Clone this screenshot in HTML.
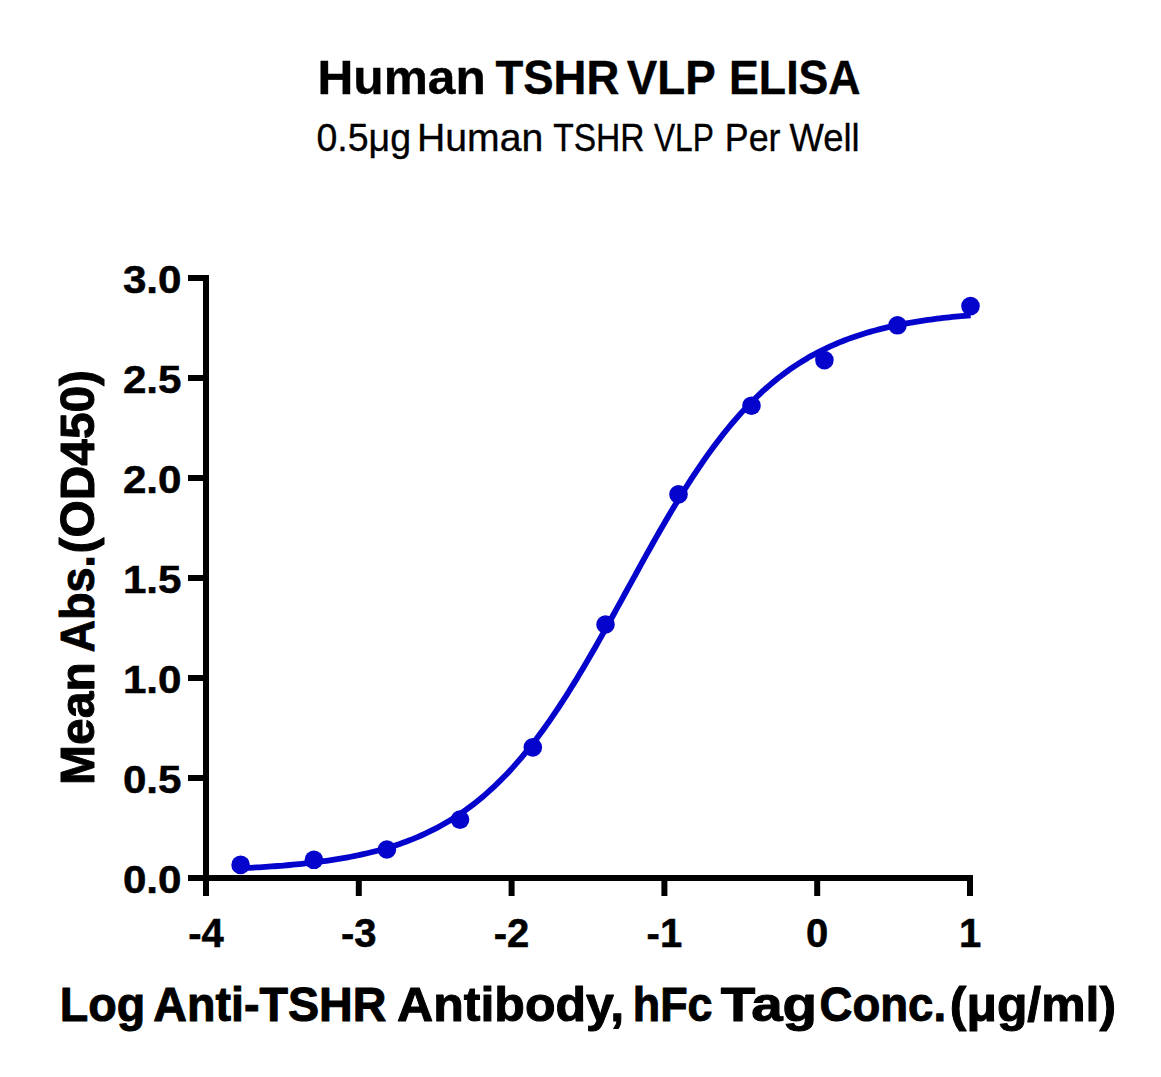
<!DOCTYPE html>
<html><head><meta charset="utf-8"><style>
html,body{margin:0;padding:0;background:#fff;}
body{width:1161px;height:1077px;overflow:hidden;}
svg{display:block;}
text{font-family:"Liberation Sans",sans-serif;fill:#000;}
.b{font-weight:bold;}
</style></head><body>
<svg width="1161" height="1077" viewBox="0 0 1161 1077">
<rect width="1161" height="1077" fill="#fff"/>
<text class="b" stroke="#000" stroke-width="0.4" stroke-linejoin="round" x="317.50" y="94.4" font-size="48.6" textLength="168.28" lengthAdjust="spacingAndGlyphs">Human</text>
<text class="b" stroke="#000" stroke-width="0.4" stroke-linejoin="round" x="495.40" y="94.4" font-size="48.6" textLength="123.84" lengthAdjust="spacingAndGlyphs">TSHR</text>
<text class="b" stroke="#000" stroke-width="0.4" stroke-linejoin="round" x="626.80" y="94.4" font-size="48.6" textLength="88.85" lengthAdjust="spacingAndGlyphs">VLP</text>
<text class="b" stroke="#000" stroke-width="0.4" stroke-linejoin="round" x="729.10" y="94.4" font-size="48.6" textLength="131.45" lengthAdjust="spacingAndGlyphs">ELISA</text>
<text class="r" stroke="#000" stroke-width="0.35" stroke-linejoin="round" x="316.50" y="151.3" font-size="38.5" textLength="94.57" lengthAdjust="spacingAndGlyphs">0.5μg</text>
<text class="r" stroke="#000" stroke-width="0.35" stroke-linejoin="round" x="417.00" y="151.3" font-size="38.5" textLength="126.22" lengthAdjust="spacingAndGlyphs">Human</text>
<text class="r" stroke="#000" stroke-width="0.35" stroke-linejoin="round" x="553.20" y="151.3" font-size="38.5" textLength="91.37" lengthAdjust="spacingAndGlyphs">TSHR</text>
<text class="r" stroke="#000" stroke-width="0.35" stroke-linejoin="round" x="653.90" y="151.3" font-size="38.5" textLength="59.96" lengthAdjust="spacingAndGlyphs">VLP</text>
<text class="r" stroke="#000" stroke-width="0.35" stroke-linejoin="round" x="724.80" y="151.3" font-size="38.5" textLength="55.69" lengthAdjust="spacingAndGlyphs">Per</text>
<text class="r" stroke="#000" stroke-width="0.35" stroke-linejoin="round" x="789.60" y="151.3" font-size="38.5" textLength="70.08" lengthAdjust="spacingAndGlyphs">Well</text>
<g stroke="#000" stroke-width="6" fill="none">
<path d="M206,275 V878 H973"/>
<path d="M188,278 H206 M188,378 H206 M188,478 H206 M188,578 H206 M188,678 H206 M188,778 H206 M188,878 H206"/>
<path d="M206,878 V896 M358.8,878 V896 M511.6,878 V896 M664.4,878 V896 M817.2,878 V896 M970,878 V896"/>
</g>
<g class="b" font-size="39.4" text-anchor="end" stroke="#000" stroke-width="0.5"><text x="181.5" y="293.2" textLength="58.6" lengthAdjust="spacingAndGlyphs">3.0</text><text x="181.5" y="393.2" textLength="58.6" lengthAdjust="spacingAndGlyphs">2.5</text><text x="181.5" y="493.2" textLength="58.6" lengthAdjust="spacingAndGlyphs">2.0</text><text x="181.5" y="593.2" textLength="58.6" lengthAdjust="spacingAndGlyphs">1.5</text><text x="181.5" y="693.2" textLength="58.6" lengthAdjust="spacingAndGlyphs">1.0</text><text x="181.5" y="793.2" textLength="58.6" lengthAdjust="spacingAndGlyphs">0.5</text><text x="181.5" y="893.2" textLength="58.6" lengthAdjust="spacingAndGlyphs">0.0</text></g>
<g class="b" font-size="40" text-anchor="middle" stroke="#000" stroke-width="0.5"><text x="206.0" y="947">-4</text><text x="358.8" y="947">-3</text><text x="511.6" y="947">-2</text><text x="664.4" y="947">-1</text><text x="817.2" y="947">0</text><text x="970.0" y="947">1</text></g>
<text class="b" stroke="#000" stroke-width="1.0" stroke-linejoin="round" x="59.70" y="1021.2" font-size="48.7" textLength="85.53" lengthAdjust="spacingAndGlyphs">Log</text>
<text class="b" stroke="#000" stroke-width="1.0" stroke-linejoin="round" x="153.20" y="1021.2" font-size="48.7" textLength="233.23" lengthAdjust="spacingAndGlyphs">Anti-TSHR</text>
<text class="b" stroke="#000" stroke-width="1.0" stroke-linejoin="round" x="397.00" y="1021.2" font-size="48.7" textLength="227.07" lengthAdjust="spacingAndGlyphs">Antibody,</text>
<text class="b" stroke="#000" stroke-width="1.0" stroke-linejoin="round" x="632.80" y="1021.2" font-size="48.7" textLength="79.71" lengthAdjust="spacingAndGlyphs">hFc</text>
<text class="b" stroke="#000" stroke-width="1.0" stroke-linejoin="round" x="720.80" y="1021.2" font-size="48.7" textLength="96.32" lengthAdjust="spacingAndGlyphs">Tag</text>
<text class="b" stroke="#000" stroke-width="1.0" stroke-linejoin="round" x="819.50" y="1021.2" font-size="48.7" textLength="126.63" lengthAdjust="spacingAndGlyphs">Conc.</text>
<text class="b" stroke="#000" stroke-width="1.0" stroke-linejoin="round" x="949.80" y="1021.2" font-size="48.7" textLength="166.24" lengthAdjust="spacingAndGlyphs">(μg/ml)</text>
<text class="b" stroke="#000" stroke-width="1.0" stroke-linejoin="round" transform="translate(94.2,784.9000000000003) rotate(-90)" x="0" y="0" font-size="48.7" textLength="122.65" lengthAdjust="spacingAndGlyphs">Mean</text>
<text class="b" stroke="#000" stroke-width="1.0" stroke-linejoin="round" transform="translate(94.2,652.5) rotate(-90)" x="0" y="0" font-size="48.7" textLength="97.56" lengthAdjust="spacingAndGlyphs">Abs.</text>
<text class="b" stroke="#000" stroke-width="1.0" stroke-linejoin="round" transform="translate(94.2,553.4000000000003) rotate(-90)" x="0" y="0" font-size="48.7" textLength="183.43" lengthAdjust="spacingAndGlyphs">(OD450)</text>
<path d="M240.99,868.27 L244.04,868.12 L247.10,867.96 L250.15,867.80 L253.20,867.63 L256.26,867.45 L259.31,867.27 L262.36,867.08 L265.41,866.88 L268.47,866.68 L271.52,866.46 L274.57,866.24 L277.62,866.01 L280.68,865.77 L283.73,865.52 L286.78,865.26 L289.84,864.99 L292.89,864.71 L295.94,864.42 L298.99,864.12 L302.05,863.80 L305.10,863.48 L308.15,863.14 L311.21,862.78 L314.26,862.42 L317.31,862.04 L320.36,861.64 L323.42,861.23 L326.47,860.80 L329.52,860.36 L332.58,859.90 L335.63,859.42 L338.68,858.92 L341.73,858.40 L344.79,857.87 L347.84,857.31 L350.89,856.73 L353.94,856.13 L357.00,855.51 L360.05,854.86 L363.10,854.19 L366.16,853.49 L369.21,852.77 L372.26,852.02 L375.31,851.24 L378.37,850.44 L381.42,849.60 L384.47,848.73 L387.53,847.83 L390.58,846.90 L393.63,845.93 L396.68,844.92 L399.74,843.88 L402.79,842.81 L405.84,841.69 L408.90,840.53 L411.95,839.33 L415.00,838.09 L418.05,836.81 L421.11,835.48 L424.16,834.10 L427.21,832.68 L430.27,831.20 L433.32,829.68 L436.37,828.10 L439.42,826.47 L442.48,824.78 L445.53,823.04 L448.58,821.24 L451.63,819.38 L454.69,817.46 L457.74,815.48 L460.79,813.43 L463.85,811.32 L466.90,809.14 L469.95,806.90 L473.00,804.58 L476.06,802.19 L479.11,799.74 L482.16,797.20 L485.22,794.60 L488.27,791.91 L491.32,789.15 L494.37,786.32 L497.43,783.40 L500.48,780.40 L503.53,777.32 L506.59,774.16 L509.64,770.92 L512.69,767.59 L515.74,764.18 L518.80,760.68 L521.85,757.10 L524.90,753.44 L527.95,749.69 L531.01,745.85 L534.06,741.93 L537.11,737.93 L540.17,733.84 L543.22,729.67 L546.27,725.42 L549.32,721.08 L552.38,716.67 L555.43,712.17 L558.48,707.60 L561.54,702.95 L564.59,698.23 L567.64,693.44 L570.69,688.57 L573.75,683.64 L576.80,678.64 L579.85,673.58 L582.91,668.47 L585.96,663.29 L589.01,658.06 L592.06,652.78 L595.12,647.46 L598.17,642.09 L601.22,636.68 L604.27,631.24 L607.33,625.77 L610.38,620.27 L613.43,614.74 L616.49,609.20 L619.54,603.64 L622.59,598.07 L625.64,592.50 L628.70,586.92 L631.75,581.35 L634.80,575.78 L637.86,570.23 L640.91,564.69 L643.96,559.17 L647.01,553.68 L650.07,548.21 L653.12,542.78 L656.17,537.38 L659.23,532.02 L662.28,526.71 L665.33,521.45 L668.38,516.23 L671.44,511.07 L674.49,505.97 L677.54,500.92 L680.59,495.94 L683.65,491.03 L686.70,486.18 L689.75,481.40 L692.81,476.70 L695.86,472.07 L698.91,467.52 L701.96,463.05 L705.02,458.65 L708.07,454.34 L711.12,450.10 L714.18,445.95 L717.23,441.89 L720.28,437.91 L723.33,434.01 L726.39,430.20 L729.44,426.47 L732.49,422.83 L735.55,419.27 L738.60,415.79 L741.65,412.40 L744.70,409.10 L747.76,405.88 L750.81,402.74 L753.86,399.68 L756.91,396.70 L759.97,393.81 L763.02,390.99 L766.07,388.25 L769.13,385.58 L772.18,383.00 L775.23,380.48 L778.28,378.04 L781.34,375.68 L784.39,373.38 L787.44,371.15 L790.50,368.99 L793.55,366.89 L796.60,364.86 L799.65,362.90 L802.71,360.99 L805.76,359.15 L808.81,357.36 L811.87,355.64 L814.92,353.96 L817.97,352.35 L821.02,350.78 L824.08,349.27 L827.13,347.81 L830.18,346.40 L833.24,345.03 L836.29,343.72 L839.34,342.44 L842.39,341.21 L845.45,340.03 L848.50,338.88 L851.55,337.77 L854.60,336.70 L857.66,335.67 L860.71,334.68 L863.76,333.72 L866.82,332.80 L869.87,331.90 L872.92,331.04 L875.97,330.21 L879.03,329.41 L882.08,328.64 L885.13,327.90 L888.19,327.18 L891.24,326.49 L894.29,325.83 L897.34,325.19 L900.40,324.57 L903.45,323.98 L906.50,323.41 L909.56,322.85 L912.61,322.32 L915.66,321.81 L918.71,321.32 L921.77,320.84 L924.82,320.39 L927.87,319.95 L930.92,319.52 L933.98,319.12 L937.03,318.73 L940.08,318.35 L943.14,317.98 L946.19,317.64 L949.24,317.30 L952.29,316.98 L955.35,316.66 L958.40,316.36 L961.45,316.08 L964.51,315.80 L967.56,315.53 L970.61,315.27" fill="none" stroke="#0404cc" stroke-width="5.8"/>
<g fill="#0404cc"><circle cx="240.6" cy="864.9" r="9.3"/><circle cx="313.9" cy="859.8" r="9.3"/><circle cx="386.9" cy="849.5" r="9.3"/><circle cx="460" cy="819.6" r="9.3"/><circle cx="532.8" cy="747.4" r="9.3"/><circle cx="605.5" cy="624.5" r="9.3"/><circle cx="678.5" cy="494.4" r="9.3"/><circle cx="751.5" cy="405.7" r="9.3"/><circle cx="824.4" cy="360.1" r="9.3"/><circle cx="897.5" cy="325.3" r="9.3"/><circle cx="970.5" cy="306.1" r="9.3"/></g>
</svg>
</body></html>
